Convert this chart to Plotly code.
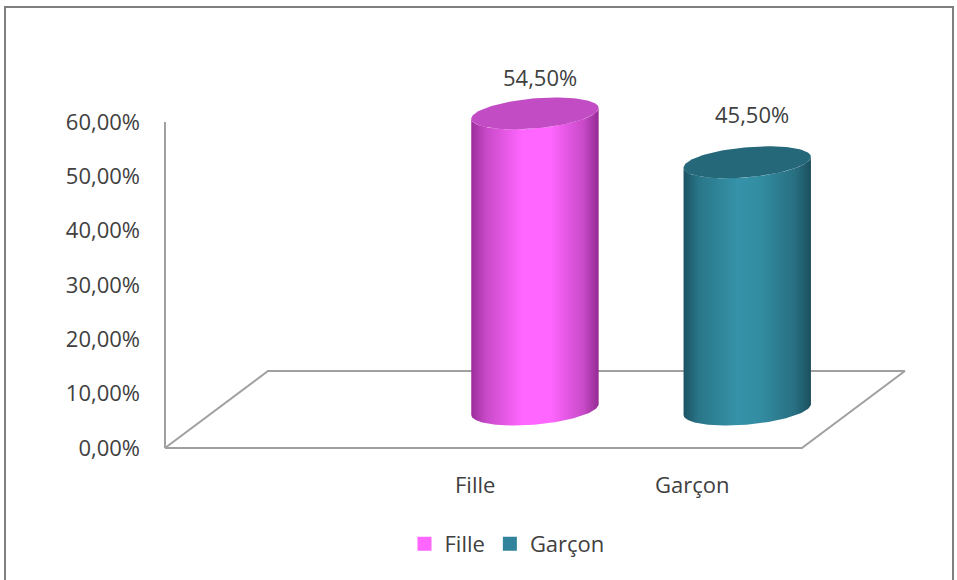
import numpy as np
import plotly.graph_objects as go

# ---- data ----
categories = ["Fille", "Garçon"]
values = [54.5, 45.5]            # percent
value_labels = ["54,50%", "45,50%"]
y_ticks = [0, 10, 20, 30, 40, 50, 60]
y_tick_labels = ["0,00%", "10,00%", "20,00%", "30,00%", "40,00%", "50,00%", "60,00%"]

# ---- style ----
W, H = 957, 580
L, R, T, B = 150, 920, 60, 460          # plot area in pixels
PX_X = 212.3                              # pixels per category slot
PX_Y = 5.433                              # pixels per percent
x_range = [(L - 165) / PX_X, (R - 165) / PX_X]
y_range = [(448 - B) / PX_Y, (448 - T) / PX_Y]
n_slots = 3                               # first slot is empty
slot_offset = 1
DX, DY = 103 / PX_X, 77 / PX_Y            # depth vector (data units)
RX, RD = 60 / PX_X, 16 / 77               # cylinder radius (x units, depth fraction)
label_yshift = [36, 48]

body_scales = [
    [[0, "#9a2e9a"], [0.12, "#c94ac9"], [0.4, "#ff66ff"], [0.62, "#ff66ff"], [0.88, "#c94ac9"], [1, "#932b93"]],
    [[0, "#1c5362"], [0.12, "#2a7689"], [0.42, "#3592a8"], [0.6, "#338da2"], [0.88, "#276e80"], [1, "#1b4f5d"]],
]
cap_colors = ["#c14cc4", "#25687a"]
legend_colors = ["#ff66ff", "#31849b"]
grey = "#a0a0a0"
font = "Open Sans"
txt = "#404040"
fs = 22

fig = go.Figure()

# floor parallelogram + vertical axis line
fx = [0, n_slots, n_slots + DX, DX, 0]
fy = [0, 0, DY, DY, 0]
fig.add_trace(go.Scatter(x=fx, y=fy, mode="lines", line=dict(color=grey, width=2),
                         showlegend=False, hoverinfo="skip"))
fig.add_trace(go.Scatter(x=[0, 0], y=[0, y_ticks[-1]], mode="lines", line=dict(color=grey, width=2),
                         showlegend=False, hoverinfo="skip"))


def ellipse(cx, cy, th):
    return (cx + RX * np.cos(th) + RD * np.sin(th) * DX,
            cy + RD * np.sin(th) * DY)


th0 = np.arctan2(RD * DX * PX_X, RX * PX_X)   # angle of rightmost point
front = np.linspace(th0 + np.pi, th0 + 2 * np.pi, 80)  # left -> front -> right

for i, (cat, v) in enumerate(zip(categories, values)):
    cx = i + slot_offset + 0.5 + 0.5 * DX
    cy0 = 0.5 * DY
    cy1 = v + 0.5 * DY
    bx, by = ellipse(cx, cy0, front)
    tx, ty = ellipse(cx, cy1, front[::-1])
    fig.add_trace(go.Scatter(
        x=np.concatenate([bx, tx, bx[:1]]), y=np.concatenate([by, ty, by[:1]]),
        mode="lines", fill="toself", line=dict(width=0),
        fillgradient=dict(type="horizontal", colorscale=body_scales[i]),
        showlegend=False, hoverinfo="skip"))
    full = np.linspace(0, 2 * np.pi, 120)
    ex, ey = ellipse(cx, cy1, full)
    fig.add_trace(go.Scatter(x=ex, y=ey, mode="lines", fill="toself",
                             fillcolor=cap_colors[i], line=dict(width=0),
                             showlegend=False, hoverinfo="skip"))
    fig.add_annotation(x=cx, y=cy1, text=value_labels[i], showarrow=False,
                       yshift=label_yshift[i], xshift=5, font=dict(family=font, size=fs, color=txt))

# category labels (Excel places them slightly left of slot centres)
for i, cat in enumerate(categories):
    fig.add_annotation(x=i + slot_offset + 0.5, y=0, text=cat, showarrow=False,
                       yshift=-36, xshift=-8 + 4 * i, font=dict(family=font, size=fs, color=txt))

# legend entries
for i, cat in enumerate(categories):
    fig.add_trace(go.Scatter(x=[None], y=[None], mode="markers", name=cat,
                             marker=dict(symbol="square", size=14, color=legend_colors[i])))

# outer frame
fig.add_shape(type="rect", xref="paper", yref="paper",
              x0=(5 - L) / (R - L), x1=(953 - L) / (R - L),
              y0=(B - 600) / (B - T), y1=(B - 7) / (B - T),
              line=dict(color="#7f7f7f", width=2), layer="below")

fig.update_layout(
    width=W, height=H,
    margin=dict(l=L, r=W - R, t=T, b=H - B),
    paper_bgcolor="white", plot_bgcolor="white",
    xaxis=dict(range=x_range, showgrid=False, zeroline=False, showline=False,
               showticklabels=False, ticks="", fixedrange=True),
    yaxis=dict(range=y_range, showgrid=False, zeroline=False, showline=False,
               tickvals=y_ticks, ticktext=y_tick_labels, ticks="", ticklabelstandoff=9,
               tickfont=dict(family=font, size=fs, color=txt), fixedrange=True),
    legend=dict(orientation="h", xanchor="center", yanchor="middle",
                x=(507 - L) / (R - L), y=(B - 544) / (B - T),
                font=dict(family=font, size=fs, color=txt), itemwidth=30,
                tracegroupgap=0),
    showlegend=True,
)

fig.write_html("out.html")
